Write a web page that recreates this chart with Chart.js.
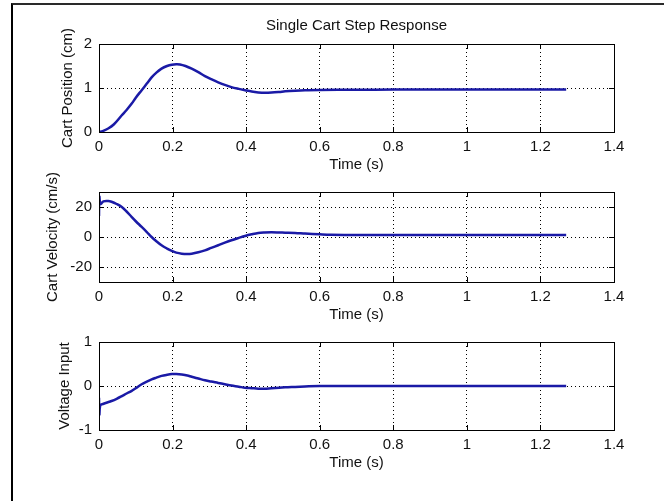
<!DOCTYPE html>
<html>
<head>
<meta charset="utf-8">
<script src="https://cdn.jsdelivr.net/npm/chart.js@4.4.1/dist/chart.umd.min.js"></script>
<style>
  body { margin: 0; background: #fff; width: 664px; height: 501px; overflow: hidden; position: relative; }
  canvas { position: absolute; left: 0; }
  #frame { position: absolute; left: 11px; top: 3px; width: 700px; height: 600px;
           border-top: 2px solid #2a2a2a; border-left: 2px solid #000; }
</style>
</head>
<body>
<div id="frame"></div>
<canvas id="chartPosition" width="664" height="180" style="top:0px"></canvas>
<canvas id="chartVelocity" width="664" height="190" style="top:140px"></canvas>
<canvas id="chartVoltage" width="664" height="201" style="top:300px"></canvas>
<script>
'use strict';

// ------------------------------------------------------- //
// Data
// ------------------------------------------------------ //
var timeTicks = [0, 0.2, 0.4, 0.6, 0.8, 1, 1.2, 1.4];
var positionTicks = [0, 1, 2];
var velocityTicks = [-20, 0, 20];
var voltageTicks = [-1, 0, 1];

var positionTime = [0, 0.01, 0.025, 0.04, 0.062, 0.075, 0.089, 0.1, 0.116, 0.13, 0.143, 0.156, 0.17, 0.185, 0.198, 0.21, 0.22, 0.235, 0.252, 0.27, 0.288, 0.305, 0.324, 0.342, 0.36, 0.38, 0.397, 0.415, 0.433, 0.45, 0.469, 0.49, 0.506, 0.533, 0.56, 0.6, 0.7, 0.8, 1.0, 1.27];
var positionValues = [0, 0.02, 0.08, 0.17, 0.38, 0.5, 0.645, 0.78, 0.95, 1.1, 1.24, 1.35, 1.44, 1.5, 1.53, 1.54, 1.535, 1.5, 1.44, 1.36, 1.27, 1.2, 1.13, 1.07, 1.02, 0.98, 0.95, 0.92, 0.9, 0.89, 0.895, 0.91, 0.925, 0.94, 0.95, 0.955, 0.96, 0.965, 0.965, 0.965];

var velocityTime = [0, 0.001, 0.004, 0.012, 0.025, 0.034, 0.048, 0.062, 0.075, 0.089, 0.1, 0.116, 0.13, 0.143, 0.156, 0.17, 0.185, 0.198, 0.21, 0.225, 0.24, 0.252, 0.27, 0.288, 0.305, 0.324, 0.342, 0.36, 0.38, 0.397, 0.415, 0.433, 0.45, 0.469, 0.49, 0.506, 0.533, 0.56, 0.6, 0.63, 0.7, 1.27];
var velocityValues = [14, 27, 22, 23.8, 24, 23.5, 22, 20, 17, 13.3, 10.5, 6.7, 3.3, 0, -2.8, -5.5, -7.7, -9.3, -10.4, -11.1, -11.3, -11.1, -10.2, -8.9, -7.3, -5.5, -3.8, -2.2, -0.6, 0.7, 1.8, 2.7, 3.0, 3.1, 3.0, 2.9, 2.7, 2.3, 1.8, 1.5, 1.3, 1.3];

var voltageTime = [0, 0.001, 0.003, 0.007, 0.02, 0.034, 0.048, 0.062, 0.075, 0.089, 0.1, 0.116, 0.13, 0.143, 0.156, 0.17, 0.185, 0.198, 0.21, 0.225, 0.24, 0.252, 0.27, 0.288, 0.305, 0.324, 0.342, 0.36, 0.38, 0.397, 0.415, 0.433, 0.45, 0.469, 0.49, 0.506, 0.533, 0.56, 0.6, 1.27];
var voltageValues = [-0.27, -0.65, -0.45, -0.42, -0.38, -0.34, -0.29, -0.23, -0.17, -0.11, -0.05, 0.04, 0.1, 0.15, 0.19, 0.23, 0.255, 0.27, 0.27, 0.26, 0.24, 0.21, 0.17, 0.13, 0.1, 0.07, 0.04, 0.01, -0.015, -0.04, -0.05, -0.06, -0.06, -0.05, -0.04, -0.03, -0.02, -0.01, 0, 0];

var FONT = '"Liberation Sans", Arial, sans-serif';
var LINE_BLUE = '#1a1aa6';

function toPoints(xs, ys) {
    return xs.map(function (x, i) { return {x: x, y: ys[i]}; });
}

// matlab style box with ticks pointing in
var boxPlugin = {
    id: 'matlabBox',
    afterDraw: function (chart) {
        var ctx = chart.ctx;
        var a = chart.chartArea;
        var xs = chart.scales.x, ys = chart.scales.y;
        var len = 5;
        ctx.save();
        ctx.setLineDash([]);
        ctx.strokeStyle = '#000';
        ctx.lineWidth = 1;
        ctx.beginPath();
        xs.ticks.forEach(function (t) {
            var px = Math.round(xs.getPixelForValue(t.value)) + 0.5;
            ctx.moveTo(px, a.bottom); ctx.lineTo(px, a.bottom - len);
            ctx.moveTo(px, a.top); ctx.lineTo(px, a.top + len);
        });
        ys.ticks.forEach(function (t) {
            var py = Math.round(ys.getPixelForValue(t.value)) + 0.5;
            ctx.moveTo(a.left, py); ctx.lineTo(a.left + len, py);
            ctx.moveTo(a.right, py); ctx.lineTo(a.right - len, py);
        });
        ctx.stroke();
        ctx.strokeRect(Math.round(a.left) + 0.5, Math.round(a.top) + 0.5,
            Math.round(a.right - a.left), Math.round(a.bottom - a.top));
        ctx.restore();
    }
};

function makeChart(id, opts) {
    var ctx = document.getElementById(id).getContext('2d');
    var scales = {
        x: {
            type: 'linear',
            min: 0,
            max: 1.4,
            afterBuildTicks: function (scale) {
                scale.ticks = timeTicks.map(function (v) { return {value: v}; });
            },
            afterFit: function (scale) { scale.height = 48; },
            ticks: {
                color: '#111',
                padding: 6,
                maxRotation: 0,
                font: {family: FONT, size: 15},
                callback: function (v) { return String(Math.round(v * 10) / 10); }
            },
            grid: {color: '#000', lineWidth: 1, drawTicks: false},
            border: {display: false, dash: [1, 3]},
            title: {
                display: true,
                text: 'Time (s)',
                color: '#111',
                font: {family: FONT, size: 15},
                padding: {top: 0, bottom: 6}
            }
        },
        y: {
            type: 'linear',
            min: opts.yMin,
            max: opts.yMax,
            afterBuildTicks: function (scale) {
                scale.ticks = opts.ticks.map(function (v) { return {value: v}; });
            },
            afterFit: function (scale) { scale.width = 99; },
            ticks: {
                color: '#111',
                padding: 7,
                font: {family: FONT, size: 15}
            },
            grid: {color: '#000', lineWidth: 1, drawTicks: false},
            border: {display: false, dash: [1, 3]},
            title: {
                display: true,
                text: opts.label,
                color: '#111',
                font: {family: FONT, size: 15},
                padding: {top: opts.labelOffset, bottom: 0}
            }
        }
    };

    // the figure title sits over the top plot, centred on its axes
    if (opts.title) {
        scales.top = {
            type: 'linear',
            position: 'top',
            min: 0,
            max: 1.4,
            afterFit: function (scale) { scale.height = opts.padTop; },
            ticks: {display: false},
            grid: {display: false},
            border: {display: false},
            title: {
                display: true,
                text: opts.title,
                color: '#111',
                font: {family: FONT, size: 15},
                padding: {top: 17, bottom: 0}
            }
        };
    }

    return new Chart(ctx, {
        type: 'line',
        data: {
            datasets: [{
                data: toPoints(opts.time, opts.values),
                borderColor: LINE_BLUE,
                borderWidth: 2.5,
                pointRadius: 0,
                fill: false,
                tension: 0.35
            }]
        },
        options: {
            responsive: false,
            animation: false,
            devicePixelRatio: 1,
            layout: {padding: {left: 0, right: 50, top: opts.title ? 0 : opts.padTop, bottom: opts.padBottom}},
            plugins: {
                legend: {display: false},
                tooltip: {enabled: false},
                title: {display: false}
            },
            scales: scales
        },
        plugins: [boxPlugin]
    });
}

// ------------------------------------------------------- //
// Charts
// ------------------------------------------------------ //
makeChart('chartPosition', {
    time: positionTime, values: positionValues,
    yMin: 0, yMax: 2, ticks: positionTicks,
    label: 'Cart Position (cm)', labelOffset: 59,
    title: 'Single Cart Step Response',
    padTop: 44, padBottom: 0
});

makeChart('chartVelocity', {
    time: velocityTime, values: velocityValues,
    yMin: -30, yMax: 30, ticks: velocityTicks,
    label: 'Cart Velocity (cm/s)', labelOffset: 44,
    padTop: 52, padBottom: 0
});

makeChart('chartVoltage', {
    time: voltageTime, values: voltageValues,
    yMin: -1, yMax: 1, ticks: voltageTicks,
    label: 'Voltage Input', labelOffset: 56,
    padTop: 42, padBottom: 23
});
</script>
</body>
</html>
